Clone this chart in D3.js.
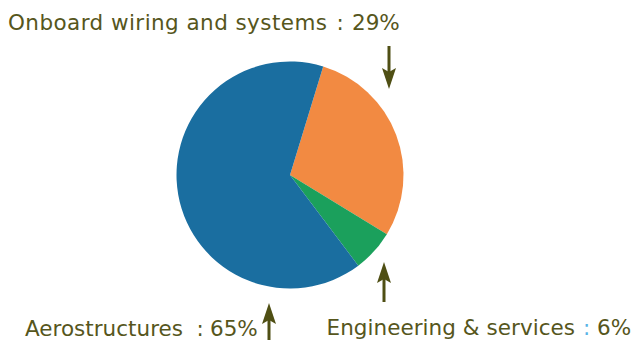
<!DOCTYPE html>
<html>
<head>
<meta charset="utf-8">
<script src="https://cdn.jsdelivr.net/npm/d3@7"></script>
<style>
  html, body { margin: 0; padding: 0; background: #fff; }
  svg { display: block; }
  text { font-family: "DejaVu Sans", Verdana, sans-serif; }
</style>
</head>
<body>
<svg id="chart" width="633" height="340"></svg>
<script>
const categories = ["Onboard wiring and systems", "Engineering & services", "Aerostructures"];
const values = [29, 6, 65];
const percentLabels = ["29%", "6%", "65%"];
const colors = ["#f28a42", "#1ba05c", "#1a6ea0"];
const colonColors = ["#56561c", "#5ab4e6", "#56561c"];

const svg = d3.select("#chart");
const cx = 290, cy = 175, r = 113.5;
const startAngle = 17 * Math.PI / 180;

const pie = d3.pie().sort(null).value(d => d.value)
  .startAngle(startAngle).endAngle(startAngle + 2 * Math.PI);
const arc = d3.arc().innerRadius(0).outerRadius(r);
const data = categories.map((c, i) => ({ name: c, value: values[i], color: colors[i], pct: percentLabels[i], colon: colonColors[i] }));

const g = svg.append("g").attr("transform", `translate(${cx},${cy})`);
g.selectAll("path").data(pie(data)).join("path")
  .attr("d", arc).attr("fill", d => d.data.color);

// Label layout: name start/end, colon centre, percentage start, baseline
const labelPos = [
  { x: 8, nameEnd: 327, colonX: 340, pctX: 352, y: 30, arrow: { x: 389, from: 46, to: 89 } },
  { x: 326.5, nameEnd: 575, colonX: 586.5, pctX: 597, y: 335, arrow: { x: 384, from: 302, to: 262 } },
  { x: 25, nameEnd: 183, colonX: 200, pctX: 210, y: 336, arrow: { x: 269, from: 342, to: 303 } }
];

const textColor = "#56561c";
const arrowColor = "#4f4f14";
const fontSize = 21.5;

data.forEach((d, i) => {
  const p = labelPos[i];
  const lg = svg.append("g").attr("font-size", fontSize).attr("fill", textColor);
  lg.append("text").attr("x", p.x).attr("y", p.y)
    .attr("textLength", p.nameEnd - p.x).attr("lengthAdjust", "spacing")
    .text(d.name);
  lg.append("text").attr("x", p.colonX).attr("y", p.y)
    .attr("text-anchor", "middle").attr("fill", d.colon).text(":");
  lg.append("text").attr("x", p.pctX).attr("y", p.y).text(d.pct);

  const a = p.arrow;
  const dir = a.to > a.from ? 1 : -1;
  const headLen = 21, headW = 7, notch = 4;
  svg.append("line")
    .attr("x1", a.x).attr("y1", a.from)
    .attr("x2", a.x).attr("y2", a.to - dir * (headLen - notch))
    .attr("stroke", arrowColor).attr("stroke-width", 3);
  const tip = a.to;
  const base = a.to - dir * headLen;
  const notchY = base + dir * notch;
  svg.append("path")
    .attr("d", `M${a.x},${tip} L${a.x + headW},${base} L${a.x},${notchY} L${a.x - headW},${base} Z`)
    .attr("fill", arrowColor);
});
</script>
</body>
</html>
